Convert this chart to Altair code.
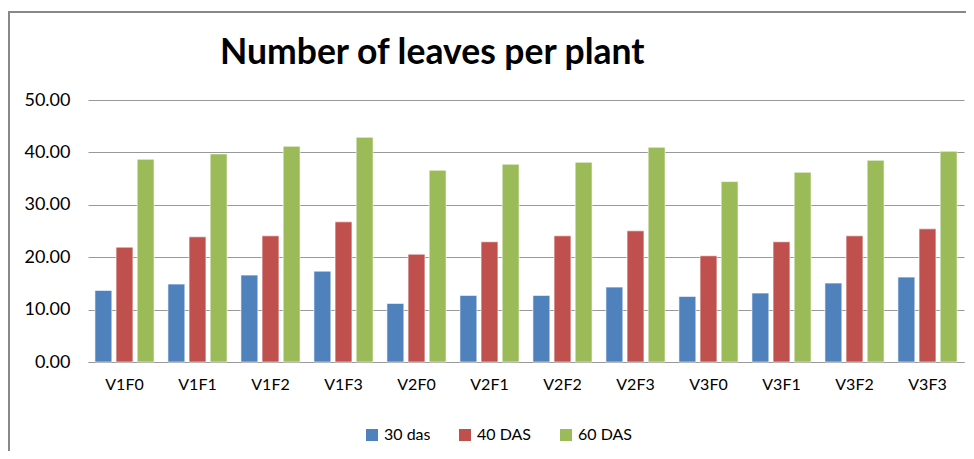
import altair as alt
import pandas as pd

treatments = ["V1F0", "V1F1", "V1F2", "V1F3", "V2F0", "V2F1",
              "V2F2", "V2F3", "V3F0", "V3F1", "V3F2", "V3F3"]
series = ["30 das", "40 DAS", "60 DAS"]
das30 = [13.66, 14.87, 16.58, 17.34, 11.18, 12.71, 12.71, 14.29, 12.52, 13.15, 15.06, 16.20]
das40 = [21.92, 23.89, 24.08, 26.75, 20.58, 22.94, 24.08, 25.03, 20.27, 22.94, 24.08, 25.41]
das60 = [38.69, 39.71, 41.17, 42.88, 36.60, 37.74, 38.12, 40.98, 34.43, 36.21, 38.50, 40.22]
colors = ["#4F81BD", "#C0504D", "#9BBB59"]
title_text = "Number of leaves per plant"

rows = []
for name, vals in zip(series, [das30, das40, das60]):
    for t, v in zip(treatments, vals):
        rows.append({"Treatment": t, "Series": name, "Value": v})
df = pd.DataFrame(rows)

FONT = "Lato"

bars = alt.Chart(df).mark_bar(stroke="white", strokeOpacity=0.6, strokeWidth=1).encode(
    x=alt.X("Treatment:N", sort=treatments,
            scale=alt.Scale(paddingInner=0.19, paddingOuter=0.095),
            axis=alt.Axis(title=None, labelAngle=0, ticks=False, domain=True,
                          domainColor="#999999", labelFontSize=16, labelFont=FONT,
                          labelColor="#000000", labelPadding=14, grid=False)),
    xOffset=alt.XOffset("Series:N", sort=series, scale=alt.Scale(paddingInner=0.2)),
    y=alt.Y("Value:Q", scale=alt.Scale(domain=[0, 50]),
            axis=alt.Axis(title=None, values=[0, 10, 20, 30, 40, 50], format=".2f",
                          ticks=False, domain=False, grid=True, gridColor="#999999",
                          gridWidth=1.2, labelFontSize=18, labelFont=FONT,
                          labelColor="#000000", labelPadding=18)),
    color=alt.Color("Series:N", sort=series,
                    scale=alt.Scale(domain=series, range=colors),
                    legend=alt.Legend(title=None, orient="none", direction="horizontal",
                                      legendX=276, legendY=327, symbolType="square",
                                      symbolSize=144, symbolStrokeWidth=0,
                                      labelFontSize=16, labelFont=FONT,
                                      labelColor="#000000", columnPadding=26,
                                      labelOffset=4)),
)

frame_top = alt.Chart(alt.Data(values=[{}])).mark_rule(color="#888888", strokeWidth=2).encode(
    x=alt.value(-80), x2=alt.value(878), y=alt.value(-88))
frame_left = alt.Chart(alt.Data(values=[{}])).mark_rule(color="#888888", strokeWidth=2).encode(
    x=alt.value(-79), y=alt.value(-88), y2=alt.value(351))

title = alt.Chart(alt.Data(values=[{}])).mark_text(
    align="left", baseline="alphabetic", fontSize=35.5, font=FONT,
    fontWeight="bold", color="#000000").encode(
    x=alt.value(132), y=alt.value(-36), text=alt.value(title_text))

chart = alt.layer(frame_top, frame_left, bars, title).properties(
    width=876, height=262,
    autosize=alt.AutoSizeParams(type="none"),
    padding={"left": 80, "top": 92, "right": 2, "bottom": 89},
).configure_view(stroke=None)

chart.save("out.html", embed_options={"renderer": "svg", "actions": False})
